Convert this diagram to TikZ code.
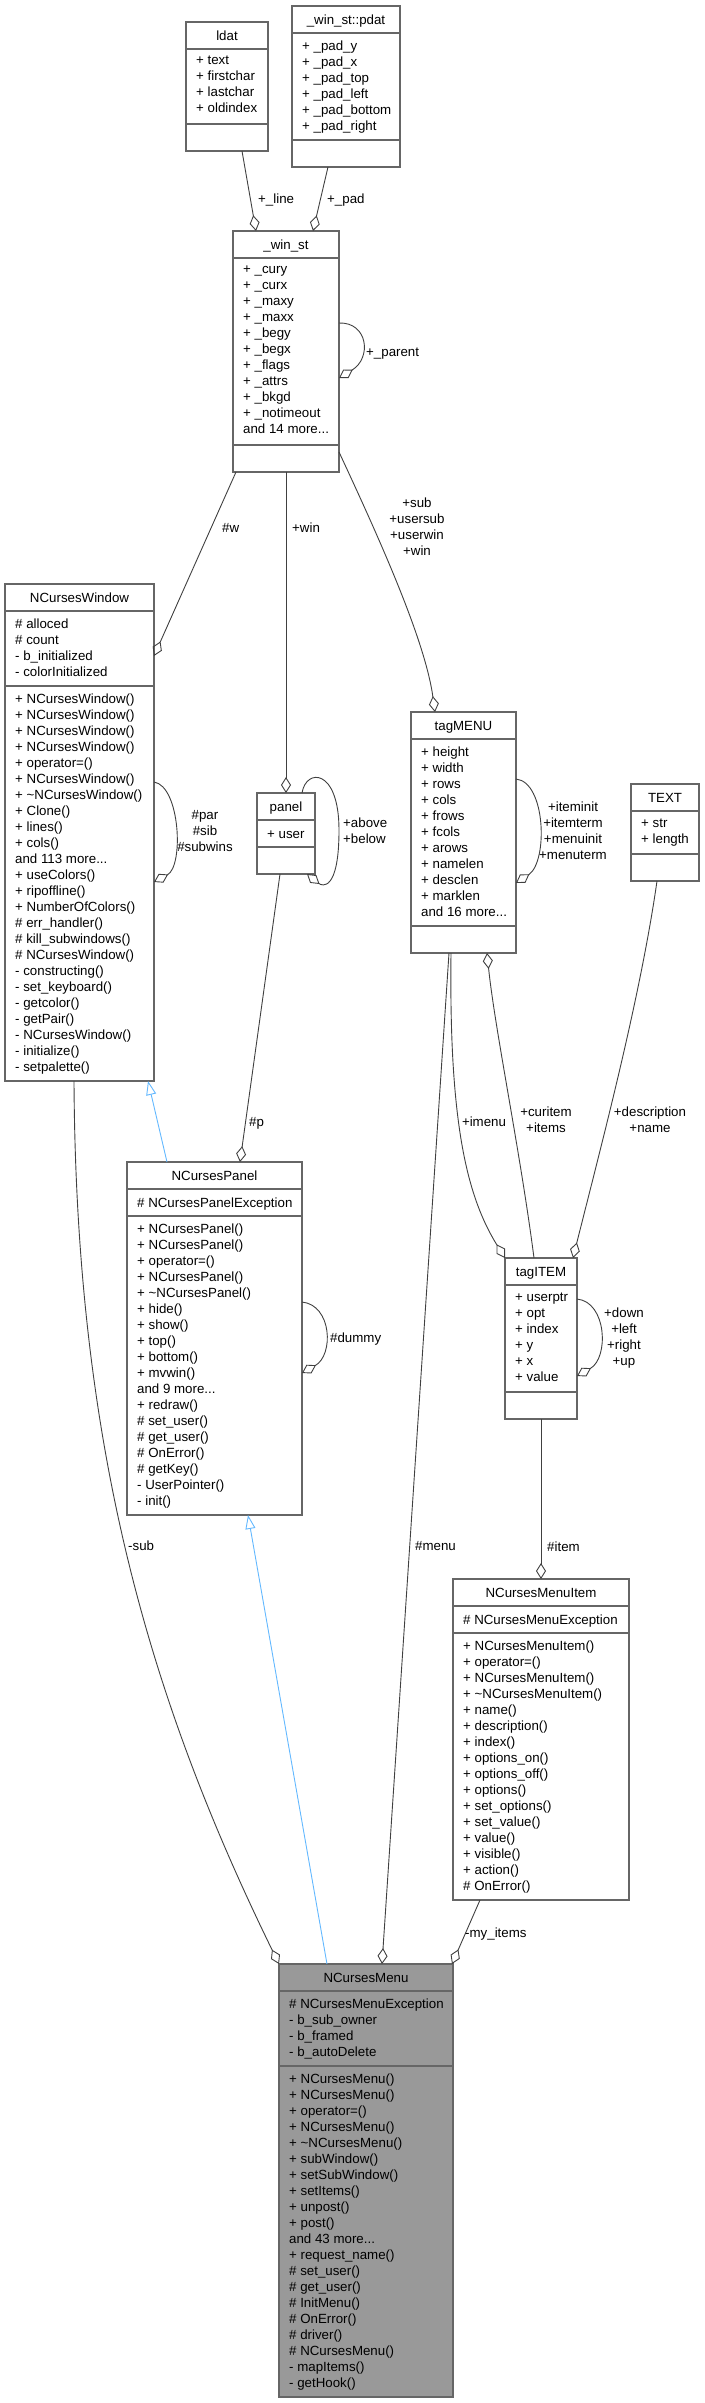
\documentclass[tikz,border=0pt]{standalone}
\usepackage{fontspec}
\setmainfont{Liberation Sans}
\usetikzlibrary{arrows.meta}
\definecolor{edgegray}{HTML}{404040}
\definecolor{boxgray}{HTML}{666666}
\definecolor{inhblue}{HTML}{63B8FF}
\definecolor{hlfill}{HTML}{999999}
\newcommand{\umlfont}{\fontsize{13.3}{16}\selectfont}

\begin{document}
\begin{tikzpicture}[x=1pt, y=-1pt,
    cls/.style={draw=boxgray, line width=1.1pt, fill=white, inner sep=0, outer sep=0},
    sep/.style={draw=boxgray, line width=1.1pt},
    txt/.style={inner sep=0, font=\umlfont, execute at begin node=\rule{0pt}{11.5pt}},
    ttl/.style={txt, anchor=north},
    mem/.style={txt, anchor=north west, align=left},
    lbl/.style={txt, anchor=north west, align=left},
    clbl/.style={txt, anchor=north, align=center},
    agg/.style={draw=edgegray, line width=0.9pt, -{Diamond[open, length=16pt, width=10pt]}},
    inh/.style={draw=inhblue, line width=0.9pt, -{Triangle[open, length=14pt, width=10pt]}}]
    \useasboundingbox (0,0) rectangle (704,2403);

    % ldat
    \node[cls, minimum width=82, minimum height=129] (ldat) at (227,86.5) {};
    \draw[sep] (ldat.west |- 0,49) -- (ldat.east |- 0,49);
    \draw[sep] (ldat.west |- 0,124) -- (ldat.east |- 0,124);
    \node[ttl] (ldat-t) at (227,29.2) {ldat};
    \node[mem] (ldat-a) at (196,56.2) {+ text\\+ firstchar\\+ lastchar\\+ oldindex};

    % _win_st::pdat
    \node[cls, minimum width=108, minimum height=161] (pdat) at (346,86.5) {};
    \draw[sep] (pdat.west |- 0,33) -- (pdat.east |- 0,33);
    \draw[sep] (pdat.west |- 0,140) -- (pdat.east |- 0,140);
    \node[ttl] (pdat-t) at (346,13.2) {\_win\_st::pdat};
    \node[mem] (pdat-a) at (302,40.2) {+ \_pad\_y\\+ \_pad\_x\\+ \_pad\_top\\+ \_pad\_left\\+ \_pad\_bottom\\+ \_pad\_right};

    % _win_st
    \node[cls, minimum width=106, minimum height=241] (winst) at (286,351.5) {};
    \draw[sep] (winst.west |- 0,258) -- (winst.east |- 0,258);
    \draw[sep] (winst.west |- 0,445) -- (winst.east |- 0,445);
    \node[ttl] (winst-t) at (286,238.2) {\_win\_st};
    \node[mem] (winst-a) at (243,265.2) {+ \_cury\\+ \_curx\\+ \_maxy\\+ \_maxx\\+ \_begy\\+ \_begx\\+ \_flags\\+ \_attrs\\+ \_bkgd\\+ \_notimeout\\and 14 more...};

    % NCursesWindow
    \node[cls, minimum width=149, minimum height=497] (ncwin) at (79.5,832.5) {};
    \draw[sep] (ncwin.west |- 0,611) -- (ncwin.east |- 0,611);
    \draw[sep] (ncwin.west |- 0,686) -- (ncwin.east |- 0,686);
    \node[ttl] (ncwin-t) at (79.5,591.2) {NCursesWindow};
    \node[mem] (ncwin-a) at (15,618.2) {\# alloced\\\# count\\- b\_initialized\\- colorInitialized};
    \node[mem] (ncwin-m) at (15,693.2) {+ NCursesWindow()\\+ NCursesWindow()\\+ NCursesWindow()\\+ NCursesWindow()\\+ operator=()\\+ NCursesWindow()\\+ \textasciitilde NCursesWindow()\\+ Clone()\\+ lines()\\+ cols()\\and 113 more...\\+ useColors()\\+ ripoffline()\\+ NumberOfColors()\\\# err\_handler()\\\# kill\_subwindows()\\\# NCursesWindow()\\- constructing()\\- set\_keyboard()\\- getcolor()\\- getPair()\\- NCursesWindow()\\- initialize()\\- setpalette()};

    % panel
    \node[cls, minimum width=58, minimum height=81] (panel) at (286,833.5) {};
    \draw[sep] (panel.west |- 0,820) -- (panel.east |- 0,820);
    \draw[sep] (panel.west |- 0,847) -- (panel.east |- 0,847);
    \node[ttl] (panel-t) at (286,800.2) {panel};
    \node[mem] (panel-a) at (267,827.2) {+ user};

    % tagMENU
    \node[cls, minimum width=105, minimum height=241] (tagmenu) at (463.5,832.5) {};
    \draw[sep] (tagmenu.west |- 0,739) -- (tagmenu.east |- 0,739);
    \draw[sep] (tagmenu.west |- 0,926) -- (tagmenu.east |- 0,926);
    \node[ttl] (tagmenu-t) at (463.5,719.2) {tagMENU};
    \node[mem] (tagmenu-a) at (421,746.2) {+ height\\+ width\\+ rows\\+ cols\\+ frows\\+ fcols\\+ arows\\+ namelen\\+ desclen\\+ marklen\\and 16 more...};

    % TEXT
    \node[cls, minimum width=68, minimum height=97] (text) at (665,832.5) {};
    \draw[sep] (text.west |- 0,811) -- (text.east |- 0,811);
    \draw[sep] (text.west |- 0,854) -- (text.east |- 0,854);
    \node[ttl] (text-t) at (665,791.2) {TEXT};
    \node[mem] (text-a) at (641,818.2) {+ str\\+ length};

    % tagITEM
    \node[cls, minimum width=72, minimum height=161] (tagitem) at (541,1338.5) {};
    \draw[sep] (tagitem.west |- 0,1285) -- (tagitem.east |- 0,1285);
    \draw[sep] (tagitem.west |- 0,1392) -- (tagitem.east |- 0,1392);
    \node[ttl] (tagitem-t) at (541,1265.2) {tagITEM};
    \node[mem] (tagitem-a) at (515,1292.2) {+ userptr\\+ opt\\+ index\\+ y\\+ x\\+ value};

    % NCursesPanel
    \node[cls, minimum width=175, minimum height=353] (ncpanel) at (214.5,1338.5) {};
    \draw[sep] (ncpanel.west |- 0,1189) -- (ncpanel.east |- 0,1189);
    \draw[sep] (ncpanel.west |- 0,1216) -- (ncpanel.east |- 0,1216);
    \node[ttl] (ncpanel-t) at (214.5,1169.2) {NCursesPanel};
    \node[mem] (ncpanel-a) at (137,1196.2) {\# NCursesPanelException};
    \node[mem] (ncpanel-m) at (137,1223.2) {+ NCursesPanel()\\+ NCursesPanel()\\+ operator=()\\+ NCursesPanel()\\+ \textasciitilde NCursesPanel()\\+ hide()\\+ show()\\+ top()\\+ bottom()\\+ mvwin()\\and 9 more...\\+ redraw()\\\# set\_user()\\\# get\_user()\\\# OnError()\\\# getKey()\\- UserPointer()\\- init()};

    % NCursesMenuItem
    \node[cls, minimum width=176, minimum height=321] (ncitem) at (541,1739.5) {};
    \draw[sep] (ncitem.west |- 0,1606) -- (ncitem.east |- 0,1606);
    \draw[sep] (ncitem.west |- 0,1633) -- (ncitem.east |- 0,1633);
    \node[ttl] (ncitem-t) at (541,1586.2) {NCursesMenuItem};
    \node[mem] (ncitem-a) at (463,1613.2) {\# NCursesMenuException};
    \node[mem] (ncitem-m) at (463,1640.2) {+ NCursesMenuItem()\\+ operator=()\\+ NCursesMenuItem()\\+ \textasciitilde NCursesMenuItem()\\+ name()\\+ description()\\+ index()\\+ options\_on()\\+ options\_off()\\+ options()\\+ set\_options()\\+ set\_value()\\+ value()\\+ visible()\\+ action()\\\# OnError()};

    % NCursesMenu
    \node[cls, fill=hlfill, minimum width=174, minimum height=433] (ncmenu) at (366,2180.5) {};
    \draw[sep] (ncmenu.west |- 0,1991) -- (ncmenu.east |- 0,1991);
    \draw[sep] (ncmenu.west |- 0,2066) -- (ncmenu.east |- 0,2066);
    \node[ttl] (ncmenu-t) at (366,1971.2) {NCursesMenu};
    \node[mem] (ncmenu-a) at (289,1998.2) {\# NCursesMenuException\\- b\_sub\_owner\\- b\_framed\\- b\_autoDelete};
    \node[mem] (ncmenu-m) at (289,2073.2) {+ NCursesMenu()\\+ NCursesMenu()\\+ operator=()\\+ NCursesMenu()\\+ \textasciitilde NCursesMenu()\\+ subWindow()\\+ setSubWindow()\\+ setItems()\\+ unpost()\\+ post()\\and 43 more...\\+ request\_name()\\\# set\_user()\\\# get\_user()\\\# InitMenu()\\\# OnError()\\\# driver()\\\# NCursesMenu()\\- mapItems()\\- getHook()};

    % Members of _win_st
    \draw[agg] (ldat.south -| 242,0) -- (winst.north -| 256,0);
    \node[lbl] (l-line) at (258,192.2) {+\_line};
    \draw[agg] (pdat.south -| 328,0) -- (winst.north -| 313,0);
    \node[lbl] (l-pad) at (327,192.2) {+\_pad};
    \draw[agg] (winst.east |- 0,323) .. controls (368,322) and (372,358) .. (winst.east |- 0,378);
    \node[lbl] (l-parent) at (366,345.2) {+\_parent};

    % Uses of _win_st
    \draw[agg] (winst.south -| 236,0) -- (ncwin.east |- 0,656);
    \node[lbl] (l-w) at (222,521.2) {\#w};
    \draw[agg] (winst.south -| panel.north) -- (panel.north);
    \node[lbl] (l-win) at (292,521.2) {+win};
    \draw[agg] (winst.east |- 0,452) .. controls (380,540) and (425,640) .. (tagmenu.north -| 435,0);
    \node[clbl] (l-sub) at (417,497.2) {+sub\\+usersub\\+userwin\\+win};

    % Self references
    \draw[agg] (ncwin.east |- 0,782) .. controls (180,786) and (184,866) .. (ncwin.east |- 0,882);
    \node[clbl] (l-par) at (205,810.2) {\#par\\\#sib\\\#subwins};
    \draw[agg] (panel.north -| 302,0) .. controls (306,768) and (339,768) .. (339,830) .. controls (339,892) and (322,886) .. (panel.south -| 307,0);
    \node[lbl] (l-above) at (343,817.2) {+above\\+below};
    \draw[agg] (tagmenu.east |- 0,779) .. controls (546,782) and (548,862) .. (tagmenu.east |- 0,883);
    \node[clbl] (l-init) at (573,801.2) {+iteminit\\+itemterm\\+menuinit\\+menuterm};
    \draw[agg] (tagitem.east |- 0,1299) .. controls (607,1302) and (609,1358) .. (tagitem.east |- 0,1376);
    \node[clbl] (l-down) at (624,1307.2) {+down\\+left\\+right\\+up};
    \draw[agg] (ncpanel.east |- 0,1302) .. controls (332,1305) and (334,1355) .. (ncpanel.east |- 0,1373);
    \node[lbl] (l-dummy) at (330,1331.2) {\#dummy};

    % Middle row
    \draw[agg] (panel.south -| 280,0) -- (ncpanel.north -| 240,0);
    \node[lbl] (l-p) at (249,1115.2) {\#p};
    \draw[agg] (tagmenu.south -| 451,0) .. controls (449,1120) and (466,1195) .. (tagitem.north west);
    \node[clbl] (l-imenu) at (484,1115.2) {+imenu};
    \draw[agg] (tagitem.north -| 534,0) .. controls (520,1150) and (495,1030) .. (tagmenu.south -| 487,0);
    \node[clbl] (l-curitem) at (546,1106.2) {+curitem\\+items};
    \draw[agg] (text.south -| 657,0) .. controls (640,1000) and (600,1150) .. (tagitem.north -| 573,0);
    \node[clbl] (l-name) at (650,1106.2) {+description\\+name};
    \draw[agg] (tagitem.south) -- (ncitem.north);
    \node[lbl] (l-item) at (547,1540.2) {\#item};

    % Inheritance
    \draw[inh] (ncpanel.north -| 167,0) -- (ncwin.south -| 148,0);
    \draw[inh] (ncmenu.north -| 327,0) -- (ncpanel.south -| 248,0);

    % Members of NCursesMenu
    \draw[agg] (ncwin.south -| 74,0) .. controls (76,1450) and (150,1700) .. (ncmenu.north west);
    \node[lbl] (l-subw) at (128,1539.2) {-sub};
    \draw[agg] (tagmenu.south -| 449,0) -- (ncmenu.north -| 382,0);
    \node[lbl] (l-menu) at (415,1539.2) {\#menu};
    \draw[agg] (ncitem.south -| 480,0) -- (ncmenu.north -| 452,0);
    \node[lbl] (l-items) at (465,1926.2) {-my\_items};
\end{tikzpicture}
\end{document}
